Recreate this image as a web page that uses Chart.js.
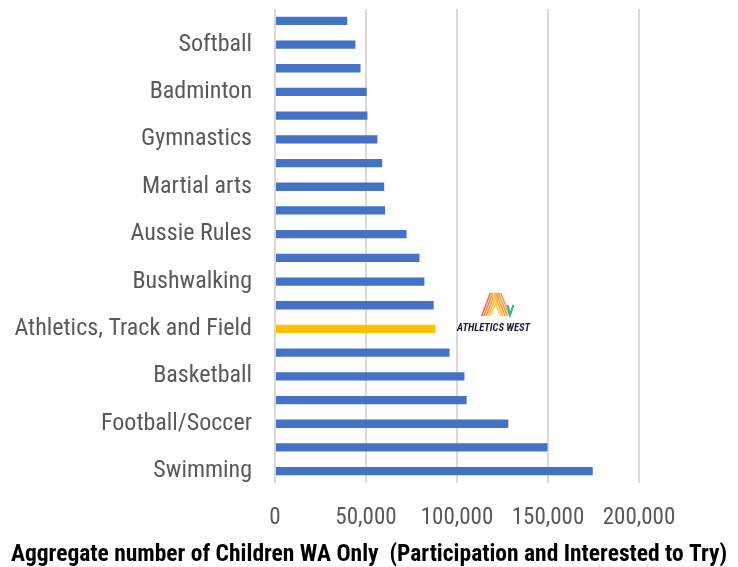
<!DOCTYPE html>
<html lang="en">
<head>
  <meta charset="UTF-8" />
  <title>Aggregate number of Children WA Only</title>
  <script src="https://cdn.jsdelivr.net/npm/chart.js"></script>
  <style>
    html, body { margin: 0; padding: 0; background: #fff; }
  </style>
</head>
<body>
  <canvas id="chart" width="738" height="567"></canvas>

  <script>
    // top to bottom, as drawn
    const sports = [
      "Rugby League", "Softball", "Golf", "Badminton", "Hockey",
      "Gymnastics", "Surfing", "Martial arts", "Cricket", "Aussie Rules",
      "Netball", "Bushwalking", "Tennis", "Athletics, Track and Field", "Cycling",
      "Basketball", "Dancing", "Football/Soccer", "Running", "Swimming"
    ];
    const children = [
      39700, 44200, 47000, 50400, 50800,
      56300, 58900, 60000, 60500, 72300,
      79400, 82100, 87200, 88200, 95900,
      104100, 105300, 128200, 149700, 174600
    ];
    const highlight = "Athletics, Track and Field";
    const xTicks = [0, 50000, 100000, 150000, 200000];
    const axisTitle = "Aggregate number of Children WA Only  (Participation and Interested to Try)";

    const FONT = "'Roboto Condensed', 'Liberation Sans Narrow', 'DejaVu Sans Condensed', Roboto, sans-serif";
    const BLUE = "#4472C4", GOLD = "#FFC000";

    // axis title centred on the whole canvas, like the Excel original
    const titlePlugin = {
      id: "wideTitle",
      afterDraw(chart) {
        const { ctx, width, height } = chart;
        ctx.save();
        let size = 25;
        ctx.font = "bold " + size + "px " + FONT;
        while (size > 12 && ctx.measureText(axisTitle).width > 728) {
          size -= 0.5;
          ctx.font = "bold " + size + "px " + FONT;
        }
        ctx.fillStyle = "#000";
        ctx.textAlign = "center";
        ctx.textBaseline = "middle";
        ctx.fillText(axisTitle, width / 2, height - 12);
        ctx.restore();
      }
    };

    // little Athletics West badge drawn beside the highlighted bar
    const logoPlugin = {
      id: "logo",
      afterDatasetsDraw(chart) {
        const { ctx, scales: { x, y } } = chart;
        const idx = sports.indexOf(highlight);
        const cx = x.getPixelForValue(125000) - 7;
        const cy = y.getPixelForValue(idx);
        ctx.save();
        ctx.fillStyle = "#fff";
        ctx.fillRect(x.getPixelForValue(100000) + 1.5, cy - 40, x.getPixelForValue(150000) - x.getPixelForValue(100000) - 3, 50);
        // striped "A"
        const cols = ["#f26a4b", "#f5834a", "#f79c45", "#f9b640", "#fbcf3c"];
        ctx.lineWidth = 1.6;
        for (let i = 0; i < 5; i++) {
          ctx.strokeStyle = cols[i];
          ctx.beginPath();
          ctx.moveTo(cx - 14 + i * 2.3, cy - 13);
          ctx.lineTo(cx - 5 + i * 2.3, cy - 36);
          ctx.stroke();
        }
        for (let i = 0; i < 5; i++) {
          ctx.strokeStyle = cols[Math.max(4 - i, 2)];
          ctx.beginPath();
          ctx.moveTo(cx - 4 + i * 2.3, cy - 36);
          ctx.lineTo(cx + 5 + i * 2.3, cy - 13);
          ctx.stroke();
        }
        ctx.strokeStyle = "#2bb39a";
        ctx.lineWidth = 2;
        ctx.beginPath();
        ctx.moveTo(cx + 12, cy - 24);
        ctx.lineTo(cx + 14.5, cy - 14);
        ctx.lineTo(cx + 18, cy - 24);
        ctx.stroke();
        ctx.fillStyle = "#1c1c3c";
        ctx.font = "italic bold 10.5px " + FONT;
        ctx.textAlign = "center";
        ctx.textBaseline = "middle";
        ctx.fillText("ATHLETICS WEST", cx - 2, cy - 1);
        ctx.restore();
      }
    };

    new Chart(document.getElementById("chart"), {
      type: "bar",
      data: {
        labels: sports,
        datasets: [{
          data: children,
          backgroundColor: sports.map(s => s === highlight ? GOLD : BLUE),
          borderWidth: 0,
          categoryPercentage: 1,
          barPercentage: 0.35
        }]
      },
      options: {
        indexAxis: "y",
        responsive: false,
        animation: false,
        devicePixelRatio: 1,
        layout: { padding: { top: 9, right: 99, bottom: 36, left: 0 } },
        plugins: {
          legend: { display: false },
          tooltip: { enabled: false },
          title: { display: false }
        },
        scales: {
          x: {
            min: 0,
            max: 200000,
            afterBuildTicks: s => { s.ticks = xTicks.map(v => ({ value: v })); },
            afterFit: s => { s.height = 48; s.paddingLeft = 0; s.paddingRight = 0; },
            grid: { color: "#d9d9d9", lineWidth: 2, drawTicks: false },
            border: { display: false },
            ticks: {
              padding: 21,
              color: "#595959",
              font: { family: FONT, size: 23 },
              maxRotation: 0,
              callback: v => v.toLocaleString("en-US")
            }
          },
          y: {
            afterFit: s => { s.width = 275; s.paddingTop = 0; s.paddingBottom = 0; },
            grid: { display: false, drawTicks: false },
            border: { display: false },
            ticks: {
              autoSkip: false,
              padding: 23,
              color: "#595959",
              font: { family: FONT, size: 24 },
              callback: (v, i) => i % 2 === 1 ? sports[i] : ""
            }
          }
        }
      },
      plugins: [logoPlugin, titlePlugin]
    });
  </script>
</body>
</html>
